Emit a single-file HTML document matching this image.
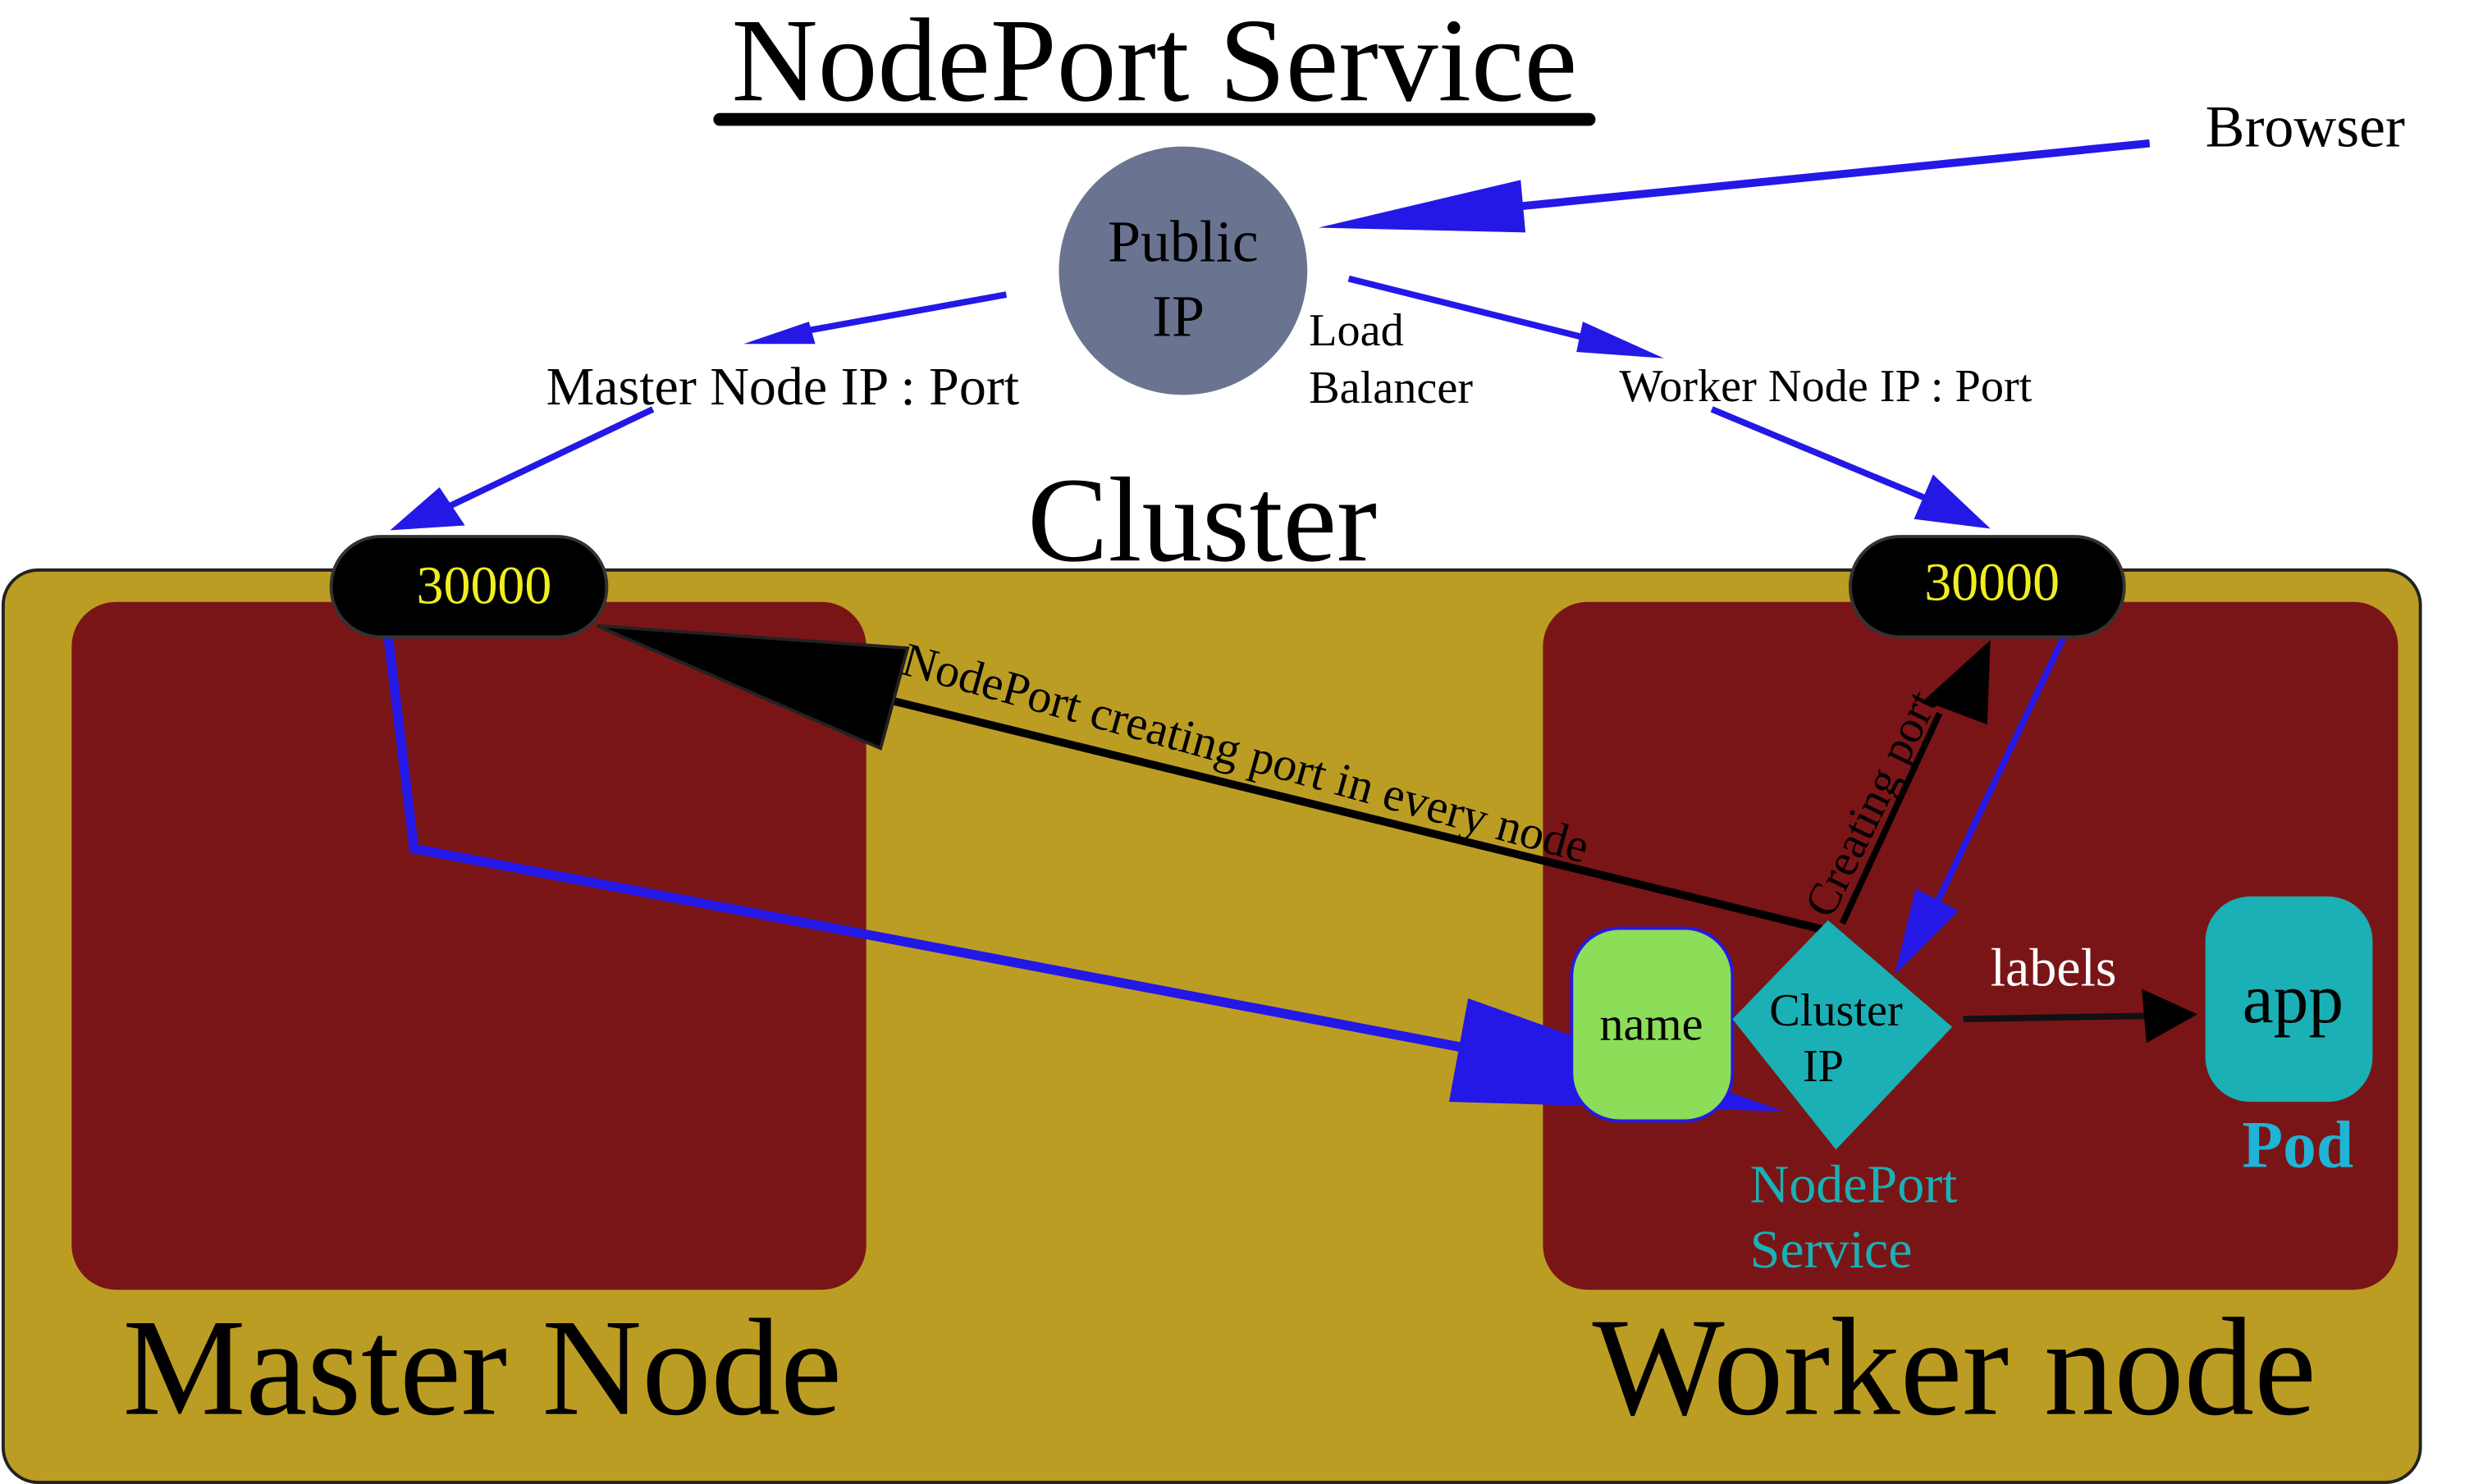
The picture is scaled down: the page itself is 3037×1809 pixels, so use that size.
<!DOCTYPE html>
<html><head><meta charset="utf-8"><style>html,body{margin:0;padding:0;background:#fff}svg{display:block;font-family:"Liberation Serif",serif}</style></head>
<body>
<svg width="3037" height="1809" viewBox="0 0 1565 932" preserveAspectRatio="none" xmlns="http://www.w3.org/2000/svg">
<text x="725" y="63" font-size="75" text-anchor="middle">NodePort Service</text>
<line x1="452" y1="75" x2="998" y2="75" stroke="#000" stroke-width="8" stroke-linecap="round"/>
<text x="1385" y="92" font-size="37">Browser</text>
<!-- cluster -->
<rect x="2" y="358" width="1518" height="573" rx="22" fill="#bc9d23" stroke="#222" stroke-width="2"/>
<rect x="45" y="378" width="499" height="432" rx="28" fill="#7a1517"/>
<rect x="969" y="378" width="537" height="432" rx="28" fill="#7a1517"/>
<text x="755" y="352" font-size="76" text-anchor="middle">Cluster</text>
<text x="77" y="888" font-size="87">Master Node</text>
<text x="1000" y="888" font-size="88">Worker node</text>
<!-- public ip -->
<ellipse cx="743" cy="170" rx="78" ry="78" fill="#6a7390"/>
<text x="743" y="164" font-size="37" text-anchor="middle">Public</text>
<text x="740" y="211" font-size="37" text-anchor="middle">IP</text>
<text x="822" y="217" font-size="29">Load</text>
<text x="822" y="253" font-size="29">Balancer</text>
<!-- blue arrows top -->
<g stroke="#2418e6" fill="#2418e6">
<line x1="1350" y1="90" x2="950" y2="130" stroke-width="5"/>
<polygon points="828,143 955,113 958,146" stroke="none"/>
<line x1="632" y1="185" x2="505" y2="208" stroke-width="4"/>
<polygon points="467,216 508,202 512,216" stroke="none"/>
<line x1="410" y1="257" x2="282" y2="318" stroke-width="4"/>
<polygon points="245,333 276,306 292,330" stroke="none"/>
<line x1="847" y1="175" x2="995" y2="212" stroke-width="4"/>
<polygon points="1045,225 994,202 990,221" stroke="none"/>
<line x1="1075" y1="257" x2="1212" y2="314" stroke-width="4"/>
<polygon points="1250,332 1214,298 1202,326" stroke="none"/>
</g>
<text x="343" y="254" font-size="34">Master Node IP : Port</text>
<text x="1017" y="252" font-size="29">Worker Node IP : Port</text>
<!-- big black arrow -->
<line x1="1150" y1="585" x2="560" y2="440" stroke="#000" stroke-width="5"/>
<polygon points="375,393 570,407 553,470" fill="#000" stroke="#222" stroke-width="2"/>
<text transform="translate(565,423) rotate(15.5)" font-size="30">NodePort creating port in every node</text>
<!-- creating port -->
<line x1="1157" y1="580" x2="1218" y2="448" stroke="#000" stroke-width="4"/>
<polygon points="1250,402 1248,455 1208,440" fill="#000"/>
<text transform="translate(1150,578) rotate(-64)" font-size="29">Creating port</text>
<!-- blue left path -->
<polyline points="243,393 260,533 930,660" fill="none" stroke="#2418e6" stroke-width="6"/>
<polygon points="922,627 910,692 1120,698" fill="#2418e6"/>
<!-- blue arrow from right pill -->
<line x1="1297" y1="398" x2="1215" y2="570" stroke="#2418e6" stroke-width="4"/>
<polygon points="1190,612 1203,558 1230,572" fill="#2418e6"/>
<!-- pills -->
<rect x="208" y="337" width="173" height="63" rx="31" fill="#000" stroke="#333" stroke-width="2"/>
<text x="304" y="379" font-size="34" fill="#f0ee20" text-anchor="middle">30000</text>
<rect x="1162" y="337" width="172" height="63" rx="31" fill="#000" stroke="#333" stroke-width="2"/>
<text x="1251" y="377" font-size="34" fill="#f0ee20" text-anchor="middle">30000</text>
<!-- name -->
<rect x="987" y="583" width="101" height="121" rx="30" fill="#8cdd58" stroke="#2418e6" stroke-width="2"/>
<text x="1037" y="653" font-size="30" text-anchor="middle">name</text>
<!-- diamond -->
<polygon points="1148,578 1226,645 1153,722 1088,640" fill="#1ab0b5"/>
<text x="1153" y="644" font-size="29" text-anchor="middle">Cluster</text>
<text x="1145" y="679" font-size="29" text-anchor="middle">IP</text>
<!-- labels -->
<line x1="1233" y1="640" x2="1348" y2="638" stroke="#111" stroke-width="4"/>
<polygon points="1380,637 1345,621 1348,655" fill="#000"/>
<text x="1250" y="619" font-size="34" fill="#fff">labels</text>
<rect x="1385" y="563" width="105" height="129" rx="28" fill="#1ab0b5"/>
<text x="1440" y="642" font-size="44" text-anchor="middle">app</text>
<text x="1443" y="733" font-size="42" font-weight="bold" fill="#1fb3d6" text-anchor="middle">Pod</text>
<text x="1099" y="755" font-size="34" fill="#1ab0b5">NodePort</text>
<text x="1099" y="796" font-size="34" fill="#1ab0b5">Service</text>
</svg>
</body></html>
